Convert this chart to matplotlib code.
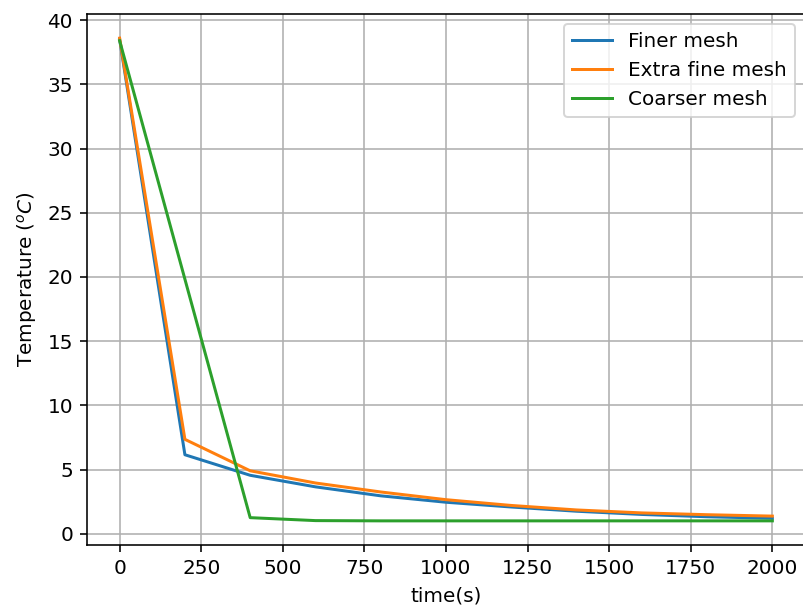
import matplotlib
matplotlib.use("Agg")
import matplotlib.pyplot as plt

time = [0, 200, 400, 600, 800, 1000, 1200, 1400, 1600, 1800, 2000]
finer = [38.5, 6.15, 4.55, 3.65, 2.95, 2.45, 2.08, 1.75, 1.5, 1.32, 1.2]
extra_fine = [38.6, 7.35, 4.9, 3.95, 3.25, 2.65, 2.2, 1.85, 1.62, 1.48, 1.37]

time_coarse = [0, 400, 600, 800, 1000, 1200, 1400, 1600, 1800, 2000]
coarser = [38.4, 1.25, 1.02, 1.0, 1.0, 1.0, 1.0, 1.0, 1.0, 1.0]

dpi = 144
fig = plt.figure(figsize=(803 / dpi, 610 / dpi), dpi=dpi)
ax = fig.add_axes([87/803, 65/610, 718/803, 531/610])

ax.plot(time, finer, label="Finer mesh")
ax.plot(time, extra_fine, label="Extra fine mesh")
ax.plot(time_coarse, coarser, label="Coarser mesh")

ax.set_xlabel("time(s)")
ax.set_ylabel("Temperature ($^oC$)")
ax.grid(True)
ax.legend(loc="upper right")

fig.savefig("out.png", dpi=dpi)
